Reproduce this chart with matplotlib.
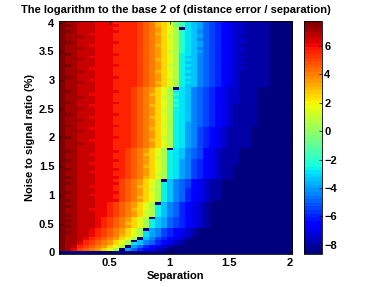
import numpy as np
import matplotlib
matplotlib.use("Agg")
import matplotlib.pyplot as plt

plt.rcParams['font.family'] = ['Liberation Sans', 'DejaVu Sans']
plt.rcParams['font.weight'] = 'bold'

# colour code of each cell: 'A' = -8.5 ... 'g' = 7.5 in steps of 0.5
CODES = "ABCDEFGHIJKLMNOPQRSTUVWXYZabcdefg"

# separation (columns) and noise level (rows)
sep = np.linspace(0.1, 2.0, 39)
noise = np.linspace(0.0, 4.0, 81)

# one string per row, from noise = 4 (top) down to noise = 0 (bottom)
rows = [
    "gffeeeddd cccc baZXWUQ|OLKJHGFEDCCBBBBAAAA",
    "ggfeeeddd dccc baZXWUQ|OLKJHGFEDCCBBBBAAAA",
    "gffeeeddd cccc baZYWUS|NLKJHGFEDCCBBBBAAAA",
    "ggfeeeddd dccc baZYWUS|NLKIHGFEDCCBBBBAAAA",
    "gffeedddd cccc baZXWUS|NLKJHGFEDCCBBBBAAAA",
    "gfffeeddd cccc baZYWTS|NLKJHGFEDCBBBBBAAAA",
    "gffeeeddd cccc baZYWUS|NLKIHGFEDCCBBBBAAAA",
    "ggfeeeddd dccc baZYWUS|NLKJHGFEDCCBBBBAAAA",
    "gffeedddd cccc baZXWUS|NLKJHGFEDCBBBBBAAAA",
    "gfffeeddd cccc baZYWUS|NLKIHGFEDCCBBBBAAAA",
    "gffeeeddd cccc baZYWTS|NLKJHGFEDCCBBBBAAAA",
    "ggfeeeddd dccc baZYWUS|MLKIHGFEDCBBBBBAAAA",
    "gffeedddd cccc baZYWUS|MKKIHGFEDCCBBBBAAAA",
    "gfffeeddd cccc baZXWUS|MLKIHGFEDCBBBBBAAAA",
    "gffeeeddd cccc baZYWUS|MKKIHGFEDCCBBBBAAAA",
    "ggfeeeddd dccc baZYWTS|MLKIHGFEDCBBBBBAAAA",
    "gffeedddd cccc baZYWUS|MKKIHGFEDCCBBBBAAAA",
    "gfffeeddd cccc baZXWUS|MLKIHGFEDCBBBBBAAAA",
    "gffeeeddd cccc baZYWUS|MKKIHGFEDCBBBBBAAAA",
    "ggfeeeddd dccc baZYWUS|MLKIHGFEDCBBBBBAAAA",
    "gffeedddd cccc baZYWTS|MKKIHGFEDCBBBBBAAAA",
    "gfffeeddd cccc baZXWUS|MLKIHGFEDCBBBBBAAAA",
    "gffeeeddd cccc baZYWUS|MKKIHGFEDCBBBBBAAAA",
    "gffeeeddd ccc baZYWUS|NLKIHGFEDCCBBB AAAAAA",
    "ggfeeeddd dcc baZYWUS|MLKIHGFEDCCBBB AAAAAA",
    "gffeedddd ccc baZXWUS|NLKIHGFEDCCBBB AAAAAA",
    "gfffeeddd ccc baZYWTS|MLKIHGFEDCCBBB AAAAAA",
    "gffeeeddd ccc baZYWUS|NLKIHGFEDCCBBB AAAAAA",
    "ggfeeeddd dcc baZYWUS|MLKIHGFEDCCBBB AAAAAA",
    "gffeedddd ccc baZXWUS|NLKIHGFEDCBBBB AAAAAA",
    "gfffeeddd ccc baZYWUS|MLKIHGFEDCBBBB AAAAAA",
    "gffeeeddd ccc baZYWTS|MLKIHGFEDCBBBB AAAAAA",
    "ggfeeeddd dcc baZYWUS|MLKIHGFEDCBBBB AAAAAA",
    "gffeedddd ccc baZXWUS|MLKIHGFEDCBBBB AAAAAA",
    "gfffeeddd ccc baZYWUS|MLKIHGFEDCBBBB AAAAAA",
    "gffeeeddd ccc baZYWUS|MLJIHGFEDCBBBB AAAAAA",
    "ggfeeeddd dcc baZYWTS|MLJIHGFEDCBBBB AAAAAA",
    "gffeedddd ccc baZXWUS|MLJIGFEDCBBBB AAAAAAA",
    "gfffeeddd ccc baZYWUS|MLJIGFEDCBBBB AAAAAAA",
    "gffeeeddd ccc baZYWUS|MLJIGFEDCBBBB AAAAAAA",
    "ggfeeeddd dcc baZYWTS|MLJIGFEDCBBBB AAAAAAA",
    "gffeedddd ccc baZXWUS|MLJIGFEDCBBBB AAAAAAA",
    "gfffeeddd ccc baZYWUS|MLJIGFEDCBBBB AAAAAAA",
    "gffeeeddd ccc baZYWUS|MLJIGFEDCBBBB AAAAAAA",
    "gffeeeddd cc baZYWUS|MLKIHGEDCBBB AAAAA AAAA",
    "ggfeeeddd dc baZYWUS|MLKIHGEDCBBB AAAAA AAAA",
    "gffeedddd cc baZXWUS|MLKIHGEDCBBB AAAAA AAAA",
    "gffeeeddd cc baZYWTS|MLKIHGEDCBBB AAAAA AAAA",
    "ggfeeeddd dc baZYWUS|MLJIGFEDCBBB AAAAA AAAA",
    "gffeedddd cc baZYWUS|MLJIGFEDCBBB AAAAA AAAA",
    "gffeeeddd cc baZXWUS|MLJIGFEDCBB AAAAA AAAAA",
    "ggfeeeddd dc baZYWUS|MLJIGFEDCBB AAAAA AAAAA",
    "gffeedddd cc baZYWUS|MLJIGFEDCBB AAAAA AAAAA",
    "gffeeeddd cc baZYWTS|MLJIGFEDCBB AAAAA AAAAA",
    "ggfeeeddd dc baZXWUS|MLJIGFEDCBB AAAAA AAAAA",
    "gffeeeddd c baZYWUS|MKIHGEDCBB AAAAA AAAAA AA",
    "ggfeeeddd d baZYWUS|MKIHGEDCBB AAAAA AAAAA AA",
    "gffeedddd c baZXWUS|MKIHGEDCBB AAAAA AAAAA AA",
    "gffeeeddd c baZYWTS|MKIHFEDCBB AAAAA AAAAA AA",
    "ggfeeeddd d baZYWUS|MKIHFEDCBB AAAAA AAAAA AA",
    "gffeedddd c baZYWUS|MKIHFEDCBB AAAAA AAAAA AA",
    "gffeeeddd c baZXWUS|MKIHFEDCBB AAAAA AAAAA AA",
    "ggfeeeddd d baZYWUS|MKIHFEDCB AAAAA AAAAA AAA",
    "gffeeeddc baZYWUS|MKIHFEDCB AAAAA AAAAA AAAA",
    "ggfeeeddc baZYWUS|MKIHFEDCB AAAAA AAAAA AAAA",
    "gffeedddc baZXWUS|MKIHFEDCB AAAAA AAAAA AAAA",
    "gffeeeddc baZYWTS|MKIHFEDCB AAAAA AAAAA AAAA",
    "ggfeeeddc baZYWUS|MKIHFEDCB AAAAA AAAAA AAAA",
    "gffeeedc baZYWUS|MKJHGFEDCB AAAAA AAAAA AAAA",
    "ggfeeedc baZYWUS|MKJHGFEDCB AAAAA AAAAA AAAA",
    "gffeeedc baZXWUS|MKJHGFEDCB AAAAA AAAAA AAAA",
    "ggfeeedc baZYWUS|MKJHGFEDCB AAAAA AAAAA AAAA",
    "gffeedcbaZYWUS|LJIGFEDCB AAAAA AAAAA AAAAA A",
    "ggfeedcbaZYWUS|LJIGFEDCB AAAAA AAAAA AAAAA A",
    "gffeedcbaZXWUS|LJIGFEDCB AAAAA AAAAA AAAAA A",
    "gffedcbaZYWUS|AKIGFEDCB AAAAA AAAAA AAAAA AA",
    "gffecbaZYWUS|LKIHFEDCB AAAAA AAAAA AAAAA AAA",
    "gffdcbaZYWUS|LKIHFEDCB AAAAA AAAAA AAAAA AAA",
    "gfecbaZYWUS|AJHFEDCB AAAAA AAAAA AAAAA AAAAA",
    "gfdbaZYWUS|AJHFEDCB AAAAA AAAAA AAAAA AAAAA A",
    "AAAAA AAAAA AAAAA AAAAA AAAAA AAAAA AAAAA AAAA",
]

# dark marks: separation / noise where each column switches
dash_sep = [0.6, 0.65, 0.7, 0.75, 0.8, 0.85, 0.9, 0.95, 1.0, 1.05, 1.1]
dash_noise = [0.05, 0.1, 0.2, 0.25, 0.4, 0.6, 0.85, 1.25, 1.8, 2.85, 3.9]

vmin, vmax = -8.64, 7.75

Z = []
for r in rows[::-1]:
    s = r.replace(" ", "").replace("|", "")
    assert len(s) == len(sep), (r, len(s))
    Z.append([-8.5 + 0.5 * CODES.index(ch) for ch in s])
Z = np.array(Z)
for xs, ys in zip(dash_sep, dash_noise):
    Z[np.argmin(abs(noise - ys)), np.argmin(abs(sep - xs))] = vmin

dx = sep[1] - sep[0]
dy = noise[1] - noise[0]

fig = plt.figure(figsize=(3.82, 2.87), dpi=100)
ax = fig.add_axes([0.1537, 0.116, 0.6115, 0.81])
im = ax.imshow(Z, origin='lower', aspect='auto', cmap=plt.get_cmap('jet', 64),
               vmin=vmin, vmax=vmax, interpolation='nearest',
               extent=[sep[0] - dx/2, sep[-1] + dx/2, noise[0] - dy/2, noise[-1] + dy/2])

ax.set_xticks([0.5, 1, 1.5, 2])
ax.set_xticklabels(['0.5', '1', '1.5', '2'])
ax.set_yticks(np.arange(0, 4.01, 0.5))
ax.set_yticklabels(['0', '0.5', '1', '1.5', '2', '2.5', '3', '3.5', '4'])
ax.tick_params(direction='in', top=True, right=True, length=2.5, width=0.5,
               labelsize=8, pad=3)
for s in ax.spines.values():
    s.set_linewidth(0.6)

ax.set_xlabel('Separation', fontsize=8, fontweight='bold', labelpad=2)
ax.set_ylabel('Noise to signal ratio (%)', fontsize=8, fontweight='bold', labelpad=3)
ax.set_title('The logarithm to the base 2 of (distance error / separation)',
             fontsize=8, fontweight='bold', pad=6)

cax = fig.add_axes([0.7966, 0.116, 0.047, 0.81])
cb = fig.colorbar(im, cax=cax, ticks=[-8, -6, -4, -2, 0, 2, 4, 6])
cb.ax.tick_params(direction='in', length=2, width=0.5, labelsize=8, pad=1.5)
cb.outline.set_linewidth(0.6)

fig.savefig('out.png', dpi=100)
